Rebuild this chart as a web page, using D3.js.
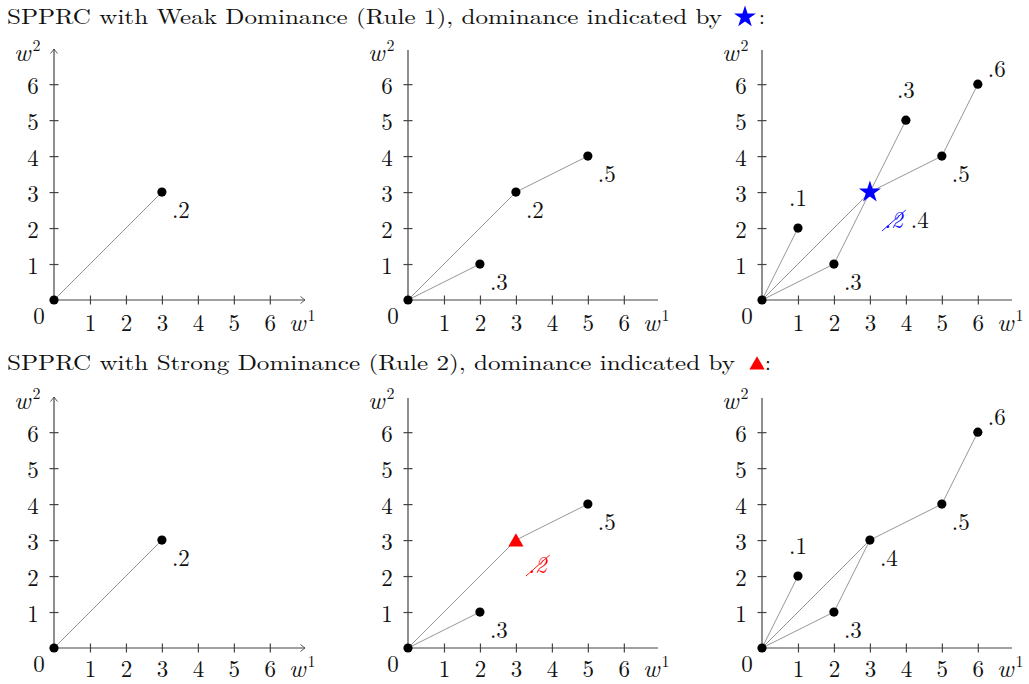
<!DOCTYPE html>
<html lang="en">
<head>
<meta charset="utf-8">
<title>SPPRC dominance</title>
<style>
  body { margin: 0; background: #fff; }
  svg text { font-family: "Latin Modern Roman", "CMU Serif", "Liberation Serif", serif; font-size: 23px; fill: #111; }
  .edge { stroke: #8a8a8a; stroke-width: 0.9px; fill: none; }
  .axisline, .axis line { stroke: #444; stroke-width: 1.2px; fill: none; }
</style>
</head>
<body>
<script src="https://cdn.jsdelivr.net/npm/d3@7"></script>
<script>
const tickValues = [1, 2, 3, 4, 5, 6];
const titles = [
  "SPPRC with Weak Dominance (Rule 1), dominance indicated by",
  "SPPRC with Strong Dominance (Rule 2), dominance indicated by"
];

// row 1: weak dominance
const weakA_nodes = [[0, 0], [3, 3]];
const weakA_edges = [[[0, 0], [3, 3]]];
const weakA_labels = [{at: [3, 3], text: ".2", pos: "br"}];

const weakB_nodes = [[0, 0], [2, 1], [3, 3], [5, 4]];
const weakB_edges = [[[0, 0], [3, 3]], [[3, 3], [5, 4]], [[0, 0], [2, 1]]];
const weakB_labels = [
  {at: [3, 3], text: ".2", pos: "br"},
  {at: [5, 4], text: ".5", pos: "br"},
  {at: [2, 1], text: ".3", pos: "br"}
];

const weakC_nodes = [[0, 0], [1, 2], [2, 1], [4, 5], [5, 4], [6, 6]];
const weakC_edges = [[[0, 0], [1, 2]], [[0, 0], [3, 3]], [[0, 0], [2, 1]], [[2, 1], [3, 3]],
                     [[3, 3], [4, 5]], [[3, 3], [5, 4]], [[5, 4], [6, 6]]];
const weakC_labels = [
  {at: [1, 2], text: ".1", pos: "a"},
  {at: [4, 5], text: ".3", pos: "a"},
  {at: [6, 6], text: ".6", pos: "ar"},
  {at: [5, 4], text: ".5", pos: "br"},
  {at: [2, 1], text: ".3", pos: "br"},
  {at: [3, 3], text: ".4", struck: ".2", pos: "star"}
];
const weakC_dominated = [3, 3];

// row 2: strong dominance
const strongA_nodes = [[0, 0], [3, 3]];
const strongA_edges = [[[0, 0], [3, 3]]];
const strongA_labels = [{at: [3, 3], text: ".2", pos: "br"}];

const strongB_nodes = [[0, 0], [2, 1], [5, 4]];
const strongB_edges = [[[0, 0], [3, 3]], [[3, 3], [5, 4]], [[0, 0], [2, 1]]];
const strongB_labels = [
  {at: [5, 4], text: ".5", pos: "br"},
  {at: [2, 1], text: ".3", pos: "br"},
  {at: [3, 3], text: "", struck: ".2", pos: "tri"}
];
const strongB_dominated = [3, 3];

const strongC_nodes = [[0, 0], [1, 2], [2, 1], [3, 3], [5, 4], [6, 6]];
const strongC_edges = [[[0, 0], [1, 2]], [[0, 0], [3, 3]], [[0, 0], [2, 1]], [[2, 1], [3, 3]],
                       [[3, 3], [5, 4]], [[5, 4], [6, 6]]];
const strongC_labels = [
  {at: [1, 2], text: ".1", pos: "a"},
  {at: [6, 6], text: ".6", pos: "ar"},
  {at: [5, 4], text: ".5", pos: "br"},
  {at: [3, 3], text: ".4", pos: "br"},
  {at: [2, 1], text: ".3", pos: "br"}
];

const panels = [
  {nodes: weakA_nodes, edges: weakA_edges, labels: weakA_labels, arrows: true},
  {nodes: weakB_nodes, edges: weakB_edges, labels: weakB_labels},
  {nodes: weakC_nodes, edges: weakC_edges, labels: weakC_labels, star: weakC_dominated, color: "#0000ff"},
  {nodes: strongA_nodes, edges: strongA_edges, labels: strongA_labels, arrows: true},
  {nodes: strongB_nodes, edges: strongB_edges, labels: strongB_labels, tri: strongB_dominated, color: "#ff0000"},
  {nodes: strongC_nodes, edges: strongC_edges, labels: strongC_labels}
];

// label placement relative to the node, like tikz "below right" etc.
const place = {
  br:   {dx: 10, dy: 26, anchor: "start"},
  a:    {dx: 0, dy: -22, anchor: "middle"},
  ar:   {dx: 10, dy: -7, anchor: "start"},
  star: {dx: 14, dy: 36, anchor: "start"},
  tri:  {dx: 12, dy: 33, anchor: "start"}
};

const W = 1029, H = 684;
const svg = d3.select("body").append("svg").attr("width", W).attr("height", H);

svg.append("defs").append("marker")
    .attr("id", "arr").attr("markerUnits", "userSpaceOnUse")
    .attr("viewBox", "-6 -5 7 10").attr("refX", 0).attr("refY", 0)
    .attr("markerWidth", 7).attr("markerHeight", 10).attr("orient", "auto")
  .append("path")
    .attr("d", "M-4.5,-3.5 Q-1.5,-1 0,0 Q-1.5,1 -4.5,3.5")
    .attr("fill", "none").attr("stroke", "#444").attr("stroke-width", 0.9);

const star = d3.symbol().type(d3.symbolStar).size(150);
const tri = d3.symbol().type(d3.symbolTriangle).size(100);

// titles
titles.forEach((t, i) => {
  const y0 = i === 0 ? 24 : 370;
  svg.append("text").attr("x", 7).attr("y", y0).style("font-size", "21px")
    .attr("textLength", i === 0 ? 715 : 728).attr("lengthAdjust", "spacingAndGlyphs")
    .text(t);
  if (i === 0)
    svg.append("path").attr("d", star()).attr("fill", "#0000ff").attr("transform", "translate(745,17)");
  else
    svg.append("path").attr("d", tri()).attr("fill", "#ff0000").attr("transform", "translate(757,365)");
  svg.append("text").attr("x", i === 0 ? 759 : 765).attr("y", y0).style("font-size", "21px").text(":");
});

const originsX = [54, 408, 762], originsY = [300, 648];
const x = d3.scaleLinear().domain([0, 6.95]).range([0, 250]);
const y = d3.scaleLinear().domain([0, 6.95]).range([0, -250]);

panels.forEach((p, i) => {
  const row = Math.floor(i / 3);
  const g = svg.append("g")
    .attr("transform", `translate(${originsX[i % 3]},${originsY[row]})`);

  // axes
  const xa = g.append("g").attr("class", "axis")
    .call(d3.axisBottom(x).tickValues(tickValues).tickFormat(d3.format("d"))
      .tickSizeInner(4.5).tickSizeOuter(0));
  const ya = g.append("g").attr("class", "axis")
    .call(d3.axisLeft(y).tickValues(tickValues).tickFormat(d3.format("d"))
      .tickSizeInner(4.5).tickSizeOuter(0));
  [xa, ya].forEach(a => {
    a.attr("font-family", null).attr("font-size", null);
    a.select(".domain").remove();
  });
  const lblY = row === 0 ? 31 : 29;
  xa.selectAll(".tick line").attr("y1", -4.5);
  xa.selectAll(".tick text").attr("y", lblY).attr("dy", null);
  ya.selectAll(".tick line").attr("x1", 4.5);
  ya.selectAll(".tick text").attr("x", -21).attr("text-anchor", "middle").attr("y", 9.5).attr("dy", null);

  const ext = p.arrows ? 251 : 250;
  g.append("line").attr("class", "axisline").attr("x1", 0).attr("y1", 0).attr("x2", ext).attr("y2", 0)
    .attr("marker-end", p.arrows ? "url(#arr)" : null);
  g.append("line").attr("class", "axisline").attr("x1", 0).attr("y1", 0).attr("x2", 0).attr("y2", -ext)
    .attr("marker-end", p.arrows ? "url(#arr)" : null);

  g.append("text").attr("x", -15).attr("y", 24).attr("text-anchor", "middle").text("0");
  const wx = g.append("text").attr("x", 235).attr("y", lblY);
  wx.append("tspan").attr("font-style", "italic").style("font-size", "25px").text("w");
  wx.append("tspan").attr("dx", 2).attr("dy", -10).style("font-size", "16px").text("1");
  const wy = g.append("text").attr("x", -40).attr("y", -239);
  wy.append("tspan").attr("font-style", "italic").style("font-size", "25px").text("w");
  wy.append("tspan").attr("dx", 2).attr("dy", -10).style("font-size", "16px").text("2");

  // edges
  g.selectAll("line.edge").data(p.edges).join("line").attr("class", "edge")
    .attr("x1", d => x(d[0][0])).attr("y1", d => y(d[0][1]))
    .attr("x2", d => x(d[1][0])).attr("y2", d => y(d[1][1]));

  // nodes
  g.selectAll("circle").data(p.nodes).join("circle")
    .attr("cx", d => x(d[0])).attr("cy", d => y(d[1])).attr("r", 4.6).attr("fill", "#000");

  if (p.star)
    g.append("path").attr("d", star()).attr("fill", p.color)
      .attr("transform", `translate(${x(p.star[0])},${y(p.star[1])})`);
  if (p.tri)
    g.append("path").attr("d", tri()).attr("fill", p.color)
      .attr("transform", `translate(${x(p.tri[0])},${y(p.tri[1]) + 2})`);

  // labels
  p.labels.forEach(l => {
    const pl = place[l.pos];
    let lx = x(l.at[0]) + pl.dx;
    const ly = y(l.at[1]) + pl.dy;
    if (l.struck) {
      const st = g.append("text").attr("x", lx).attr("y", ly).attr("font-style", "italic")
        .style("fill", p.color).text(l.struck);
      const w = st.node().getComputedTextLength();
      g.append("line").attr("x1", lx - 2).attr("y1", ly + 3).attr("x2", lx + w + 3).attr("y2", ly - 18)
        .attr("stroke", p.color).attr("stroke-width", 0.9);
      lx += w + 8;
    }
    if (l.text)
      g.append("text").attr("x", lx).attr("y", ly).attr("text-anchor", pl.anchor).text(l.text);
  });
});
</script>
</body>
</html>
